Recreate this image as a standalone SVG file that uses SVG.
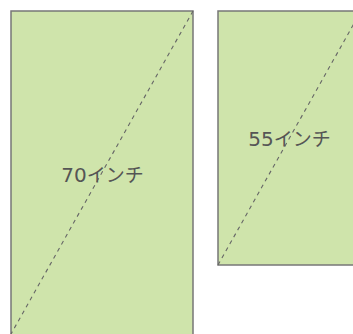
<svg xmlns="http://www.w3.org/2000/svg" width="353" height="334" viewBox="0 0 353 334">
<style>
.tv{fill:#cfe4ab;stroke:#777;stroke-width:1.5}
.diag{stroke:#666;stroke-width:1.1;stroke-dasharray:4 4;fill:none}
.lbl{font-family:"Noto Sans CJK JP","DejaVu Sans",sans-serif;font-size:19px;fill:#555;text-anchor:middle}
.num{font-family:"DejaVu Sans",sans-serif;font-size:20px}
</style>
<rect width="353" height="334" fill="#fff"/>
<g id="tv70">
<rect class="tv" x="11" y="11" width="182" height="330"/>
<line class="diag" x1="193" y1="11" x2="11" y2="334"/>
<text class="lbl" x="102.5" y="181.5"><tspan class="num">70</tspan>インチ</text>
</g>
<g id="tv55">
<rect class="tv" x="218" y="11" width="143" height="254"/>
<line class="diag" x1="218" y1="265" x2="361" y2="11"/>
<text class="lbl" x="289.5" y="145.5"><tspan class="num">55</tspan>インチ</text>
</g>
</svg>
